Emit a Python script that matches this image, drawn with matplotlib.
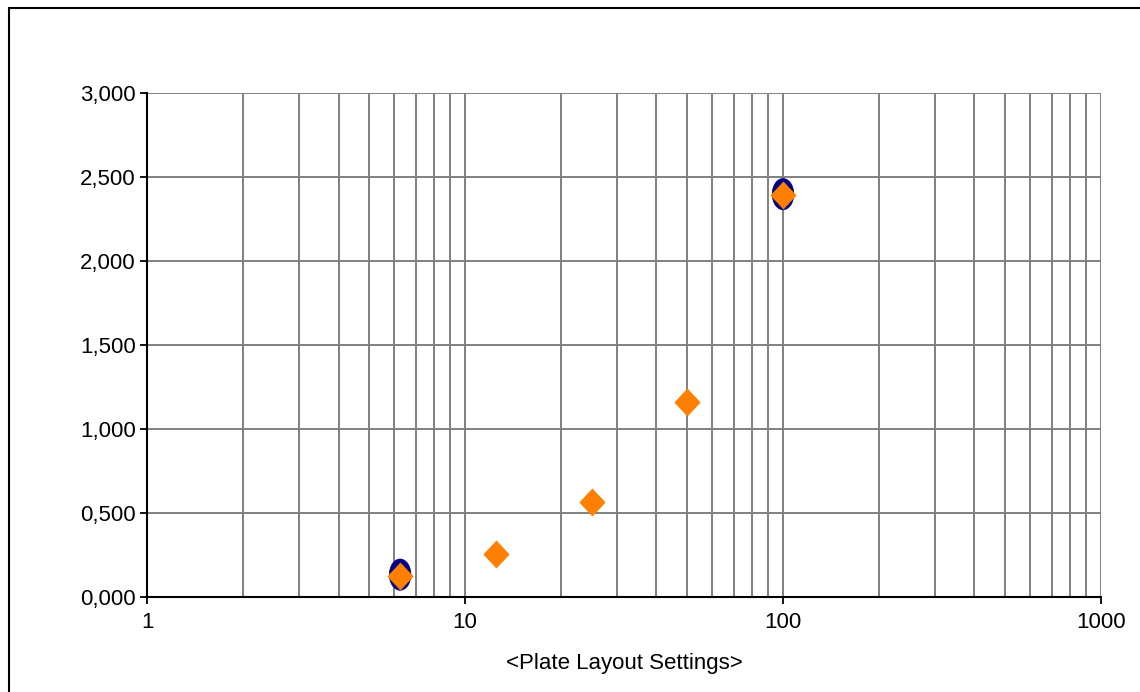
import numpy as np
import matplotlib.pyplot as plt
from matplotlib.path import Path
from matplotlib.patches import Rectangle
from matplotlib.ticker import FixedLocator, FuncFormatter, LogLocator, NullFormatter

plt.rcParams['font.family'] = ['Liberation Sans', 'DejaVu Sans']

# plate layout settings vs measured values (two series)
settings = [6.25, 12.5, 25, 50, 100]
series_a = [133, 258, 566, 1161, 2398]
series_b = [122, 257, 565, 1160, 2390]

x_ticks = [1, 10, 100, 1000]
y_ticks = [0, 500, 1000, 1500, 2000, 2500, 3000]

# oval marker: unit circle squeezed horizontally
circ = Path.unit_circle()
oval = Path(circ.vertices * np.array([0.69, 1.0]), circ.codes)
# diamond marker, a touch taller than wide
diamond = Path([(0, 1), (0.93, 0), (0, -1), (-0.93, 0), (0, 1)],
               [Path.MOVETO, Path.LINETO, Path.LINETO, Path.LINETO, Path.CLOSEPOLY])

# marker sizes (points) for the oval series
oval_ms = np.array([22.5, 13, 13, 13, 22.5])

fig = plt.figure(figsize=(11.4, 6.92), dpi=100)
ax = fig.add_axes([0.129, 0.1373, 0.8368, 0.7283])

ax.set_xscale('log')
ax.set_xlim(1, 1000)
ax.set_ylim(0, 3000)

ax.scatter(settings, series_a, marker=oval, s=oval_ms ** 2, facecolor='#000080',
           edgecolor='#000080', linewidths=0.5, zorder=3, clip_on=False)
ax.plot(settings, series_b, linestyle='none', marker=diamond, markersize=19.5,
        markerfacecolor='#FF8000', markeredgecolor='#FF8000', markeredgewidth=0.5,
        zorder=4, clip_on=False)

ax.xaxis.set_major_locator(FixedLocator(x_ticks))
ax.xaxis.set_major_formatter(FuncFormatter(lambda v, p: '%d' % v))
ax.xaxis.set_minor_locator(LogLocator(base=10, subs=np.arange(2, 10)))
ax.xaxis.set_minor_formatter(NullFormatter())
ax.yaxis.set_major_locator(FixedLocator(y_ticks))
ax.yaxis.set_major_formatter(FuncFormatter(lambda v, p: ('%.3f' % (v / 1000)).replace('.', ',')))

ax.grid(True, which='both', axis='x', color='#808080', linewidth=1.4)
ax.grid(True, which='major', axis='y', color='#808080', linewidth=1.4)
ax.set_axisbelow(True)

ax.tick_params(axis='both', which='major', direction='out', length=5, width=1.3,
               color='black', labelsize=16)
ax.tick_params(axis='x', which='major', pad=6)
ax.tick_params(axis='y', which='major', pad=3)
ax.tick_params(axis='x', which='minor', length=0)

for side in ['top', 'right']:
    ax.spines[side].set_visible(False)
for side in ['left', 'bottom']:
    ax.spines[side].set_color('black')
    ax.spines[side].set_linewidth(1.5)

ax.set_xlabel('<Plate Layout Settings>', fontsize=16, labelpad=14)

# outer chart frame
fig.patches.append(Rectangle((8.5 / 1140, -0.1), 1.2, 1.1 - 7.5 / 692,
                             transform=fig.transFigure, fill=False,
                             edgecolor='black', linewidth=1.5))

fig.savefig('out.png', dpi=100)
